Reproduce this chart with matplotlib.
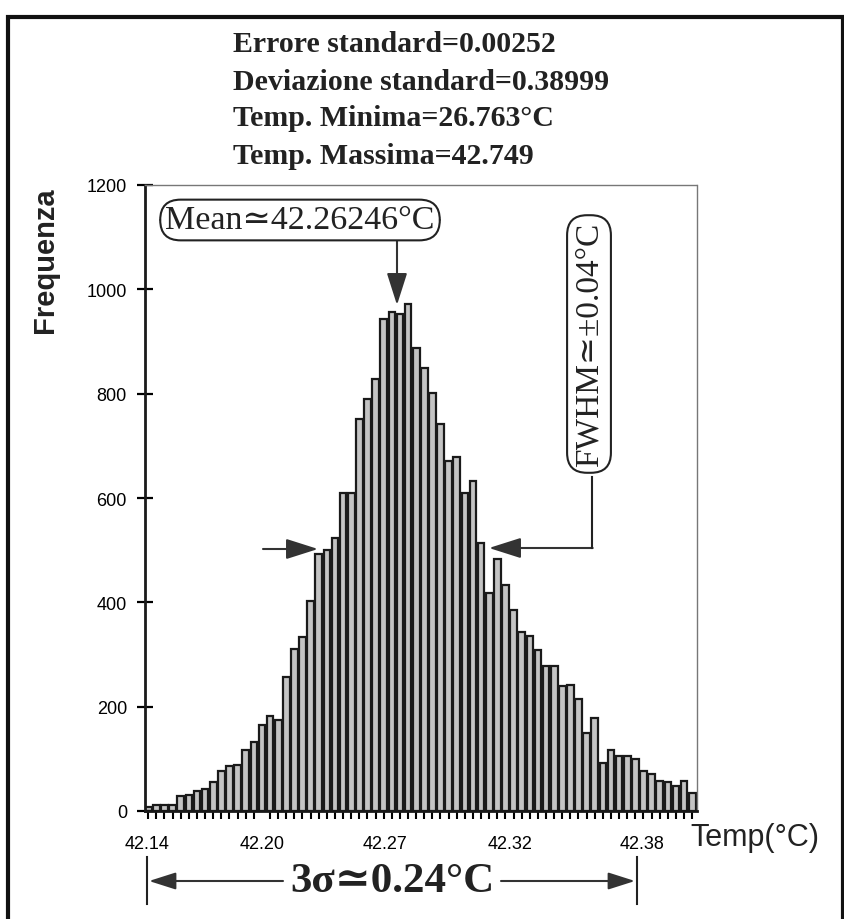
import matplotlib
matplotlib.use("Agg")
import matplotlib.pyplot as plt
from matplotlib.patches import Rectangle
from matplotlib.lines import Line2D
import numpy as np

# ---------------- data ----------------
counts = [8, 12, 12, 12, 29, 31, 39, 42, 55, 77, 86, 89, 117, 133, 164, 182, 174,
          256, 310, 334, 403, 492, 501, 524, 609, 609, 751, 790, 829, 944, 956,
          953, 972, 887, 849, 802, 741, 671, 679, 609, 633, 514, 418, 483, 433,
          386, 343, 336, 308, 277, 277, 239, 242, 215, 150, 178, 92, 116, 105,
          105, 100, 77, 70, 58, 55, 47, 58, 35]
bins = np.arange(len(counts))
xtick_labels = ["42.14", "42.20", "42.27", "42.32", "42.38"]
xtick_bins = [0.25, 14.4, 29.6, 45.0, 61.2]
yticks = [0, 200, 400, 600, 800, 1000, 1200]
stats_lines = ["Errore standard=0.00252",
               "Deviazione standard=0.38999",
               "Temp. Minima=26.763°C",
               "Temp. Massima=42.749"]
mean_text = "Mean≃42.26246°C"
fwhm_text = "FWHM≃±0.04°C"
sigma_text = "3σ≃0.24°C"

W, H = 845, 920
fig = plt.figure(figsize=(W / 100, H / 100), dpi=100)
fig.patch.set_facecolor("white")


def P(x, y):
    """pixel (from top-left) -> figure fraction"""
    return (x / W, 1 - y / H)


serif = ["Liberation Serif", "DejaVu Serif"]
sans = ["Liberation Sans", "DejaVu Sans"]

# outer frame
fig.add_artist(Rectangle(P(8, 940), (843 - 8) / W, (940 - 18) / H,
                         transform=fig.transFigure, fill=False,
                         edgecolor="#111", lw=3, zorder=0))

ax = fig.add_axes([145 / W, 1 - 812 / H, (697 - 145) / W, (812 - 186) / H])
ax.bar(bins, counts, width=0.82, align="edge", color="#c4c4c4",
       edgecolor="#1a1a1a", linewidth=1.6)
ax.set_xlim(0, len(counts))
ax.set_ylim(0, 1200)
ax.set_yticks(yticks)
ax.set_yticklabels([str(v) for v in yticks], fontfamily=sans, fontsize=13)
ax.set_xticks(xtick_bins)
ax.set_xticklabels(xtick_labels, fontfamily=sans, fontsize=13)
ax.set_xticks(bins + 0.4, minor=True)
ax.tick_params(axis="y", direction="inout", length=12, width=1.6, pad=7)
ax.tick_params(axis="x", which="major", length=0, pad=17)
ax.tick_params(axis="x", which="minor", direction="out", length=6, width=1.5)
for s in ["top", "right"]:
    ax.spines[s].set_color("#777")
    ax.spines[s].set_linestyle((0, (1, 1)))
    ax.spines[s].set_linewidth(1)
for s in ["left", "bottom"]:
    ax.spines[s].set_color("#1a1a1a")
    ax.spines[s].set_linewidth(2)

# y label
fig.text(*P(45, 260), "Frequenza", rotation=90, ha="center", va="center",
         fontfamily=sans, fontweight="bold", fontsize=21, color="#222")

# stats text
for i, line in enumerate(stats_lines):
    fig.text(*P(233, 45 + i * 37), line, ha="left", va="center",
             fontfamily=serif, fontweight="bold", fontsize=21.5, color="#222")

# x axis title
fig.text(*P(755, 838), "Temp(°C)", ha="center", va="center",
         fontfamily=sans, fontsize=22, color="#222")

arrow_style = "-|>,head_length=1.1,head_width=0.35"

# Mean annotation
fig.text(*P(300, 221), mean_text, ha="center", va="center",
         fontfamily=serif, fontsize=24.5, color="#222",
         bbox=dict(boxstyle="round,pad=0.15,rounding_size=0.6", fc="white",
                   ec="#222", lw=1.5))
ax.annotate("", xy=P(397, 306), xytext=P(397, 240),
            xycoords="figure fraction", textcoords="figure fraction",
            arrowprops=dict(arrowstyle=arrow_style,
                            color="#333", lw=1.5, mutation_scale=18,
                            shrinkA=0, shrinkB=0))

# FWHM annotation
fig.text(*P(589, 345), fwhm_text, ha="center", va="center", rotation=90,
         fontfamily=serif, fontsize=24, color="#222",
         bbox=dict(boxstyle="round,pad=0.2,rounding_size=0.6", fc="white",
                   ec="#222", lw=1.5))
fig.add_artist(Line2D([592 / W, 592 / W], [1 - 478 / H, 1 - 549 / H],
                      transform=fig.transFigure, color="#222", lw=1.5))
ax.annotate("", xy=P(489, 549), xytext=P(592.7, 549),
            xycoords="figure fraction", textcoords="figure fraction",
            arrowprops=dict(arrowstyle=arrow_style,
                            color="#333", lw=1.5, mutation_scale=18,
                            shrinkA=0, shrinkB=0))
ax.annotate("", xy=P(318, 550), xytext=P(263, 550),
            xycoords="figure fraction", textcoords="figure fraction",
            arrowprops=dict(arrowstyle=arrow_style,
                            color="#333", lw=1.5, mutation_scale=18,
                            shrinkA=0, shrinkB=0))

# 3 sigma annotation
for xv in (147, 637):
    fig.add_artist(Line2D([xv / W, xv / W], [1 - 858 / H, 1 - 905 / H],
                          transform=fig.transFigure, color="#222", lw=1.5))
fig.text(*P(392, 882), sigma_text, ha="center", va="center",
         fontfamily=serif, fontweight="bold", fontsize=31, color="#222")
ax.annotate("", xy=P(149, 882), xytext=P(283, 882),
            xycoords="figure fraction", textcoords="figure fraction",
            arrowprops=dict(arrowstyle=arrow_style,
                            color="#333", lw=1.5, mutation_scale=15,
                            shrinkA=0, shrinkB=0))
ax.annotate("", xy=P(635, 882), xytext=P(501, 882),
            xycoords="figure fraction", textcoords="figure fraction",
            arrowprops=dict(arrowstyle=arrow_style,
                            color="#333", lw=1.5, mutation_scale=15,
                            shrinkA=0, shrinkB=0))

fig.savefig("out.png", dpi=100)
